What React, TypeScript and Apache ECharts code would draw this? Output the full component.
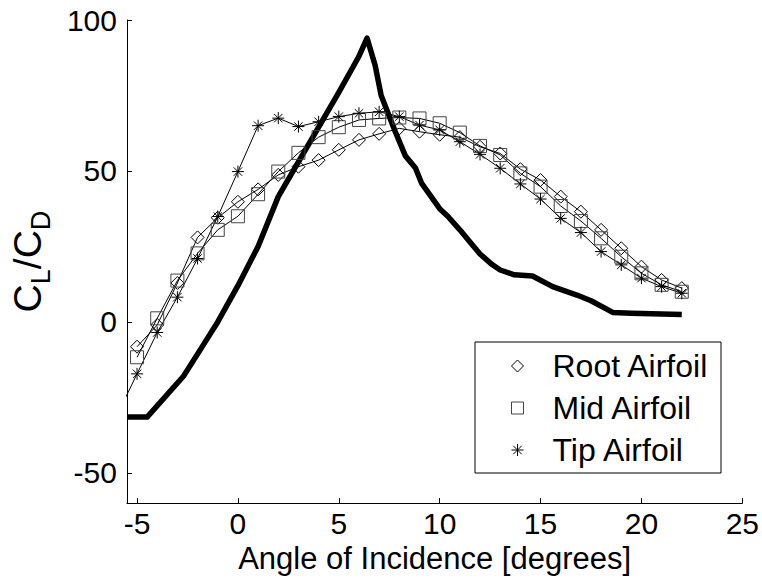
import React, { useEffect, useRef } from "react";
import * as echarts from "echarts";

const angles = [-5, -4, -3, -2, -1, 0, 1, 2, 3, 4, 5, 6, 7, 8, 9, 10, 11, 12, 13, 14, 15, 16, 17, 18, 19, 20, 21, 22];
const rootValues = [-8.2, -1, 12.9, 28, 34.5, 39.8, 43.9, 48.7, 51.4, 53.6, 57, 60.3, 62.3, 64.1, 63, 62, 61.2, 58, 55.8, 50.6, 47, 41.5, 36.5, 30.5, 24.4, 18.3, 13.9, 11.2];
const midValues = [-11.7, 1.2, 13.7, 22.7, 30.5, 35, 42.3, 49.8, 56, 61.2, 64.5, 66.9, 67.4, 67.7, 67.4, 65.8, 62.7, 58.3, 55.3, 49.2, 44.8, 38.4, 33.4, 27.7, 21.6, 16.1, 12.3, 10];
const tipAngles = [-6, -5, -4, -3, -2, -1, 0, 1, 2, 3, 4, 5, 6, 7, 8, 9, 10, 11, 12, 13, 14, 15, 16, 17, 18, 19, 20, 21, 22];
const tipValues = [-31, -17.2, -3.5, 8.2, 21, 34.9, 49.8, 65, 67.5, 64.7, 66.3, 68, 69.1, 69.6, 68, 65.2, 63.6, 59.7, 55.5, 50.9, 45.7, 40.7, 34.3, 29.6, 23.3, 18.9, 14.5, 11.7, 9.5];
const thickAngles = [-5.5, -4.5, -2.7, -1.8, -1, 0, 1, 2, 3, 4, 5, 6, 6.4, 6.8, 7.1, 7.8, 8.3, 8.8, 9.1, 10, 10.4, 11, 11.5, 12, 12.6, 13, 13.7, 14.6, 15.6, 16.8, 17.5, 18.6, 19.5, 22];
const thickValues = [-31.5, -31.5, -18, -8.5, 0, 12, 25, 41.5, 53, 64.5, 76, 88, 94, 85, 75, 63, 55, 51, 46, 37.5, 35, 30.5, 26.5, 22.5, 19, 17.2, 15.6, 15.2, 11.7, 8.9, 7, 3.1, 2.9, 2.5];
const seriesNames = ["Root Airfoil", "Mid Airfoil", "Tip Airfoil"];
const xTitle = "Angle of Incidence [degrees]";

const FONT = "'Liberation Sans', Arial, sans-serif";
const STAR = "path://M10,0L10,20M0,10L20,10M3,3L17,17M3,17L17,3";

function pairs(xs: number[], ys: number[]) {
  return xs.map((x, i) => [x, ys[i]]);
}

export default function App() {
  const ref = useRef<HTMLDivElement>(null);
  useEffect(() => {
    if (!ref.current) return;
    const chart = echarts.init(ref.current, undefined, { renderer: "svg" });
    const markerStyle = (stroke: string) => ({
      color: "rgba(0,0,0,0)",
      borderColor: stroke,
      borderWidth: 1,
    });
    const thin = (name: string, data: number[][], symbol: string, stroke: string, size: number) => ({
      type: "line",
      name,
      data,
      symbol,
      symbolSize: size,
      showSymbol: true,
      lineStyle: { color: "#000", width: 1 },
      itemStyle: markerStyle(stroke),
      emphasis: { disabled: true },
      z: 3,
    });
    chart.setOption({
      animation: false,
      backgroundColor: "#fff",
      textStyle: { fontFamily: FONT },
      grid: { left: 125, right: 19, top: 20, bottom: 74, containLabel: false },
      xAxis: {
        type: "value",
        min: -5.5,
        max: 25,
        splitNumber: 6,
        name: xTitle,
        nameLocation: "middle",
        nameGap: 36,
        nameTextStyle: { fontSize: 31, color: "#000", fontFamily: FONT },
        axisLine: { onZero: false, lineStyle: { color: "#000", width: 1 } },
        axisTick: { inside: true, length: 5, lineStyle: { color: "#000" } },
        axisLabel: { showMinLabel: false, fontSize: 30, color: "#000", margin: 5, fontFamily: FONT },
        splitLine: { show: false },
      },
      yAxis: {
        type: "value",
        min: -60,
        max: 100,
        splitNumber: 3,
        name: "{a|C}{b|L}{a|/C}{b|D}",
        nameLocation: "middle",
        nameGap: 68,
        nameTextStyle: {
          color: "#000",
          rich: {
            a: { fontSize: 39, lineHeight: 36, padding: [0, 0, 9, 0], fontFamily: FONT, color: "#000" },
            b: { fontSize: 27, lineHeight: 27, padding: [18, 0, 0, 0], fontFamily: FONT, color: "#000" },
          },
        },
        axisLine: { show: true, onZero: false, lineStyle: { color: "#000", width: 1 } },
        axisTick: { show: true, inside: true, length: 5, lineStyle: { color: "#000" } },
        axisLabel: { showMinLabel: false, fontSize: 30, color: "#000", margin: 10, fontFamily: FONT },
        splitLine: { show: false },
      },
      legend: {
        orient: "vertical",
        left: 475,
        top: 342,
        align: "left",
        backgroundColor: "#fff",
        borderColor: "#000",
        borderWidth: 1,
        borderRadius: 0,
        padding: [8, 12, 7, 36],
        itemGap: 10,
        itemWidth: 12,
        itemHeight: 12,
        selectedMode: false,
        textStyle: { fontSize: 32, lineHeight: 30, color: "#000", fontFamily: FONT, padding: [0, 0, 0, 24] },
        data: [
          { name: seriesNames[0], icon: "diamond", itemStyle: markerStyle("#000") },
          { name: seriesNames[1], icon: "rect", itemStyle: markerStyle("#444") },
          { name: seriesNames[2], icon: STAR, itemStyle: markerStyle("#000") },
        ],
      },
      series: [
        {
          type: "line",
          name: "thick",
          data: pairs(thickAngles, thickValues),
          showSymbol: false,
          symbol: "none",
          lineStyle: { color: "#000", width: 5.5, join: "round" },
          itemStyle: { color: "#000" },
          emphasis: { disabled: true },
          z: 2,
        },
        thin(seriesNames[0], pairs(angles, rootValues), "diamond", "#000", 13),
        thin(seriesNames[1], pairs(angles, midValues), "rect", "#444", 13),
        thin(seriesNames[2], pairs(tipAngles, tipValues), STAR, "#000", 12),
      ],
    });
    return () => chart.dispose();
  }, []);
  return <div ref={ref} style={{ width: 762, height: 579, position: "absolute", left: 0, top: 0 }} />;
}
